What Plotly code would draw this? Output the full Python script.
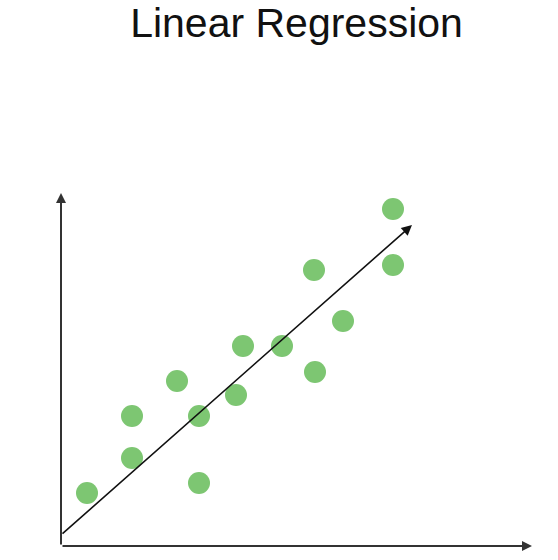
import plotly.graph_objects as go

# Data (in arbitrary units)
x_vals = [26, 71, 71, 116, 138, 138, 175, 182, 221, 253, 254, 282, 332, 332]
y_vals = [53, 88, 130, 165, 130, 63, 151, 200, 200, 276, 174, 225, 337, 281]

# Regression arrow endpoints
reg_start = (0, 11)
reg_end = (351, 321)

x_max = 471
y_max = 353

fig = go.Figure()
fig.add_trace(go.Scatter(
    x=x_vals, y=y_vals, mode="markers",
    marker=dict(size=22, color="#7dc672", line=dict(width=0)),
    hoverinfo="skip", showlegend=False, cliponaxis=False,
))

arrows = [
    # regression line
    dict(x=reg_end[0], y=reg_end[1], ax=reg_start[0], ay=reg_start[1],
         arrowcolor="#111111", arrowwidth=1.6, arrowhead=2, arrowsize=1.3),
    # x axis
    dict(x=x_max, y=0, ax=0, ay=0, arrowcolor="#333333", arrowwidth=2,
         arrowhead=2, arrowsize=1.0),
    # y axis
    dict(x=0, y=y_max, ax=0, ay=0, arrowcolor="#333333", arrowwidth=2,
         arrowhead=2, arrowsize=1.0),
]
for a in arrows:
    fig.add_annotation(xref="x", yref="y", axref="x", ayref="y", text="",
                       showarrow=True, standoff=0, startstandoff=0, **a)

fig.update_layout(
    width=558, height=560,
    margin=dict(l=61, r=26, t=193, b=14, autoexpand=False),
    paper_bgcolor="white", plot_bgcolor="white",
    title=dict(text="Linear Regression", xref="paper", x=0.5, xanchor="center",
               yref="container", y=0.96, yanchor="middle",
               font=dict(family="Liberation Sans, Arial, sans-serif", size=41, color="#111111")),
    xaxis=dict(range=[0, x_max], visible=False, showgrid=False, zeroline=False, fixedrange=True),
    yaxis=dict(range=[0, y_max], visible=False, showgrid=False, zeroline=False, fixedrange=True),
)

fig.write_html("out.html", config={"displayModeBar": False},
               post_script="document.body.style.margin='0';document.body.style.overflow='hidden';")
